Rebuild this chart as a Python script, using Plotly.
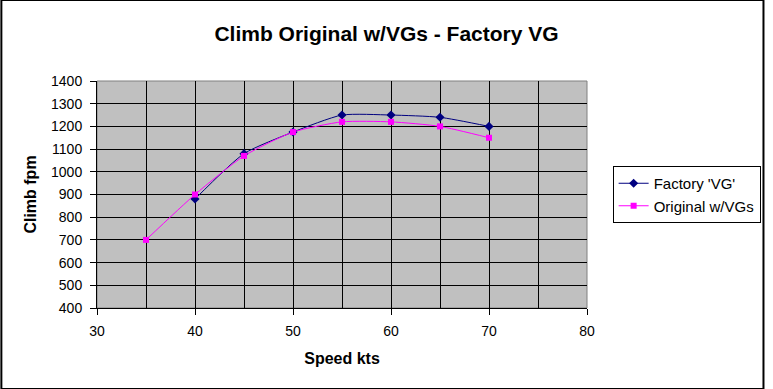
import plotly.graph_objects as go

speed_factory = [40, 45, 50, 55, 60, 65, 70]
climb_factory = [880, 1080, 1175, 1250, 1250, 1240, 1200]
speed_original = [35, 40, 45, 50, 55, 60, 65, 70]
climb_original = [700, 900, 1070, 1175, 1220, 1220, 1200, 1150]

W, H = 773, 389
ML, MR, MT, MB = 97, 179, 81, 81
FONT = "Liberation Sans, Arial, sans-serif"

fig = go.Figure()
fig.add_trace(go.Scatter(
    x=speed_factory, y=climb_factory, name="Factory 'VG'",
    mode="lines+markers",
    line=dict(color="#000080", width=1, shape="spline", smoothing=0.6),
    marker=dict(symbol="diamond", size=7, color="#000080"),
))
fig.add_trace(go.Scatter(
    x=speed_original, y=climb_original, name="Original w/VGs",
    mode="lines+markers",
    line=dict(color="#FF00FF", width=1, shape="spline", smoothing=0.6),
    marker=dict(symbol="square", size=6, color="#FF00FF"),
))

pw = W - ML - MR
ph = H - MT - MB
# outer chart border (2px centred on the edge -> 1px visible)
fig.add_shape(type="rect", xref="paper", yref="paper",
              x0=-ML / pw, x1=(W - ML) / pw,
              y0=-MB / ph, y1=(H - MB) / ph,
              line=dict(color="black", width=2), layer="above")
# plot-area frame
fig.add_shape(type="rect", xref="paper", yref="paper",
              x0=0, x1=1, y0=0, y1=1,
              line=dict(color="#808080", width=1), layer="below")

fig.update_layout(
    width=W, height=H,
    margin=dict(l=ML, r=MR, t=MT, b=MB),
    paper_bgcolor="white", plot_bgcolor="#C0C0C0",
    font=dict(family=FONT, size=14, color="black"),
    title=dict(text="<b>Climb Original w/VGs - Factory VG</b>",
               font=dict(size=21, family=FONT),
               x=0.5, xanchor="center", y=1 - 34 / H, yanchor="middle",
               xref="container", yref="container"),
    showlegend=True,
    legend=dict(x=(620 - ML) / pw, xanchor="left", y=0.5, yanchor="middle",
                bordercolor="black", borderwidth=1, bgcolor="white",
                font=dict(size=15, family=FONT), tracegroupgap=0,
                itemwidth=30),
    xaxis=dict(range=[30, 80], dtick=10, tick0=30,
               showgrid=True, gridcolor="black", gridwidth=1,
               minor=dict(dtick=5, showgrid=True, gridcolor="black", gridwidth=1),
               showline=True, linecolor="black", linewidth=1,
               ticks="outside", ticklen=6, tickcolor="black",
               ticklabelstandoff=4,
               zeroline=False,
               title=dict(text="<b>Speed kts</b>", font=dict(size=16), standoff=15)),
    yaxis=dict(range=[400, 1400], dtick=100,
               showgrid=True, gridcolor="black", gridwidth=1,
               showline=True, linecolor="black", linewidth=1,
               ticks="outside", ticklen=6, tickcolor="black",
               ticklabelstandoff=5,
               zeroline=False,
               title=dict(text="<b>Climb fpm</b>", font=dict(size=16), standoff=10)),
)

fig.write_html("out.html",
               config={"displayModeBar": False},
               post_script="document.body.style.margin='0';document.body.style.overflow='hidden';")
